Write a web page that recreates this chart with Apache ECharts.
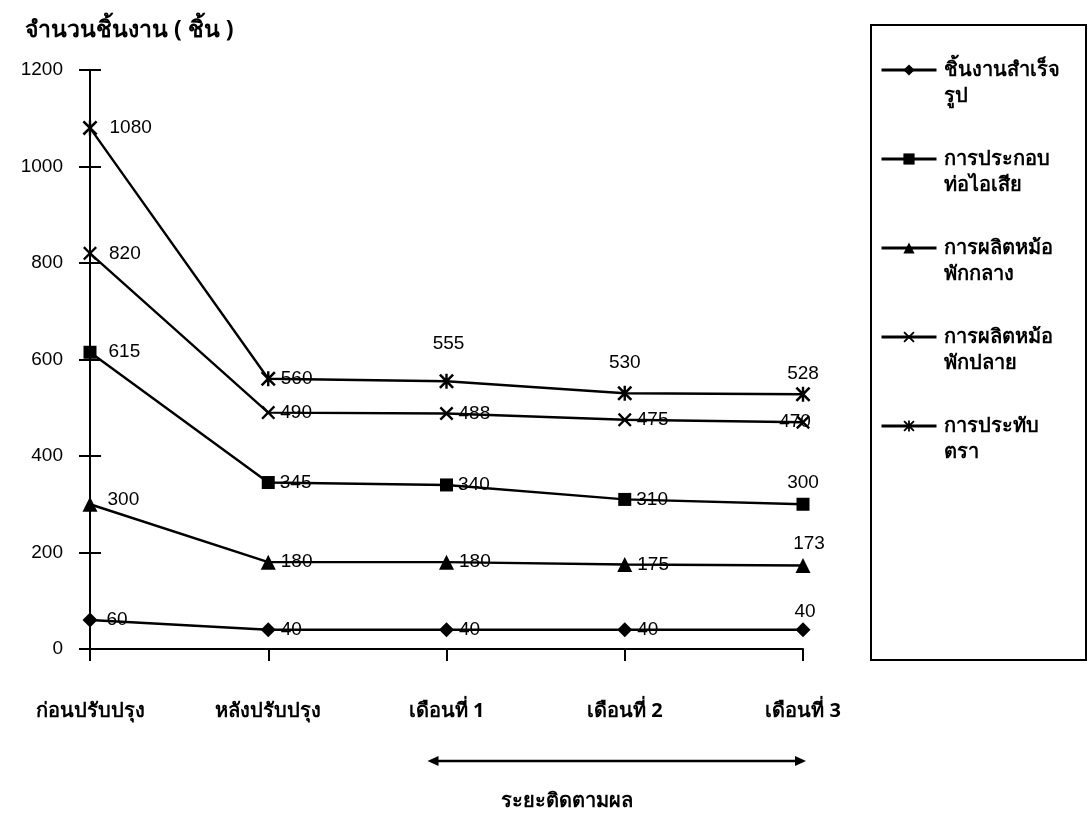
<!DOCTYPE html>
<html>
<head>
<meta charset="utf-8">
<script src="https://cdn.jsdelivr.net/npm/echarts@6/dist/echarts.min.js"></script>
<style>
  html, body { margin: 0; padding: 0; background: #ffffff; }
  #chart { width: 1088px; height: 824px; }
</style>
</head>
<body>
<div id="chart"></div>
<script>
// ---- data ----
const categories = ['ก่อนปรับปรุง', 'หลังปรับปรุง', 'เดือนที่ 1', 'เดือนที่ 2', 'เดือนที่ 3'];
const seriesNames = ['ชิ้นงานสำเร็จรูป', 'การประกอบท่อไอเสีย', 'การผลิตหม้อพักกลาง', 'การผลิตหม้อพักปลาย', 'การประทับตรา'];
const legendLines = [['ชิ้นงานสำเร็จ', 'รูป'], ['การประกอบ', 'ท่อไอเสีย'], ['การผลิตหม้อ', 'พักกลาง'], ['การผลิตหม้อ', 'พักปลาย'], ['การประทับ', 'ตรา']];
const finishedParts = [60, 40, 40, 40, 40];
const exhaustAssembly = [615, 345, 340, 310, 300];
const midMuffler = [300, 180, 180, 175, 173];
const endMuffler = [820, 490, 488, 475, 470];
const stamping = [1080, 560, 555, 530, 528];
const yTicks = { min: 0, max: 1200, interval: 200 };
const yAxisTitle = 'จำนวนชิ้นงาน ( ชิ้น )';
const followUpLabel = 'ระยะติดตามผล';

const values = [finishedParts, exhaustAssembly, midMuffler, endMuffler, stamping];

// ---- styles ----
const THAI = "'Noto Sans', 'Liberation Sans', sans-serif";
const NUM = "'Liberation Sans', Arial, sans-serif";
const xPath = 'path://M0,1.2L1.2,0L5,3.8L8.8,0L10,1.2L6.2,5L10,8.8L8.8,10L5,6.2L1.2,10L0,8.8L3.8,5Z';
const starPath = 'path://M0,1.2L1.2,0L5,3.8L8.8,0L10,1.2L6.2,5L10,8.8L8.8,10L5,6.2L1.2,10L0,8.8L3.8,5Z M4.2,0L5.8,0L5.8,10L4.2,10Z';
const symbols = ['diamond', 'rect', 'triangle', xPath, starPath];
const symbolSizes = [15, 13, 15, 14, 15];

// label placement per point: [position, distance, offset]
const labelPlace = [
  [['right', 9, [0, 0]], ['right', 5, [0, 0]], ['right', 5, [0, 0]], ['right', 5, [0, 0]], ['top', 1, [2, 0]]],
  [['right', 12, [0, 0]], ['right', 5, [0, 0]], ['right', 5, [0, 0]], ['right', 5, [0, 0]], ['top', 5, [0, 0]]],
  [['right', 10, [0, -4]], ['right', 5, [0, 0]], ['right', 5, [0, 0]], ['right', 5, [0, 0]], ['top', 5, [6, 0]]],
  [['right', 12, [0, 0]], ['right', 5, [0, 0]], ['right', 5, [0, 0]], ['right', 5, [0, 0]], ['inside', 0, [-8, 0]]],
  [['right', 12, [0, 0]], ['right', 5, [0, 0]], ['top', 20, [2, 0]], ['top', 14, [0, 0]], ['top', 3, [0, 0]]]
];

const series = seriesNames.map((name, si) => ({
  name: name,
  type: 'line',
  data: values[si].map((v, di) => ({
    value: v,
    label: {
      show: true,
      position: labelPlace[si][di][0],
      distance: labelPlace[si][di][1],
      offset: labelPlace[si][di][2]
    }
  })),
  symbol: symbols[si],
  symbolSize: symbolSizes[si],
  showAllSymbol: true,
  lineStyle: { color: '#000', width: 2.4 },
  itemStyle: { color: '#000', borderColor: '#000', borderWidth: 0 },
  label: { show: true, color: '#000', fontFamily: NUM, fontSize: 19 },
  emphasis: { disabled: true },
  z: 3
}));

// legend text: blank first line so the icon sits on the first text line
const legendMap = {};
seriesNames.forEach((n, i) => { legendMap[n] = ' \n' + legendLines[i].join('\n'); });

const baseGraphic = [
  {
    type: 'text', left: 25, top: 19,
    style: { text: yAxisTitle, fill: '#000', font: "bold 23px " + THAI }
  },
  {
    type: 'rect', shape: { x: 871, y: 25, width: 215, height: 635 },
    style: { fill: 'none', stroke: '#000', lineWidth: 2 }
  }
];

const chart = echarts.init(document.getElementById('chart'), null, { renderer: 'canvas' });
const option = {
  animation: false,
  backgroundColor: '#ffffff',
  grid: { left: 90, right: 285, top: 70, bottom: 175 },
  xAxis: {
    type: 'category',
    data: categories,
    boundaryGap: false,
    axisLine: { lineStyle: { color: '#000', width: 2 } },
    axisTick: { show: true, length: 12, lineStyle: { color: '#000', width: 2 } },
    axisLabel: { color: '#000', fontFamily: THAI, fontWeight: 'bold', fontSize: 20, margin: 52 },
    splitLine: { show: false }
  },
  yAxis: [
    {
      type: 'value',
      min: yTicks.min, max: yTicks.max, interval: yTicks.interval,
      axisLine: { show: true, lineStyle: { color: '#000', width: 2 } },
      axisTick: { show: true, length: 11, lineStyle: { color: '#000', width: 2 } },
      axisLabel: { color: '#000', fontFamily: NUM, fontSize: 19, margin: 27, formatter: v => String(v) },
      splitLine: { show: false }
    },
    {
      type: 'value',
      position: 'left',
      min: yTicks.min, max: yTicks.max, interval: yTicks.interval,
      axisLine: { show: false },
      axisTick: { show: true, inside: true, length: 11, lineStyle: { color: '#000', width: 2 } },
      axisLabel: { show: false },
      splitLine: { show: false }
    }
  ],
  legend: {
    orient: 'vertical',
    left: 880,
    top: 31,
    itemWidth: 55,
    itemHeight: 14,
    itemGap: 11,
    padding: 0,
    selectedMode: false,
    data: seriesNames,
    formatter: name => legendMap[name],
    lineStyle: { width: 3 },
    textStyle: {
      color: '#000', fontFamily: THAI, fontWeight: 'bold', fontSize: 20,
      lineHeight: 26, padding: [0, 0, 0, 2]
    }
  },
  series: series,
  graphic: baseGraphic
};
chart.setOption(option);

// follow-up period arrow between month 1 and month 3 on the category axis
const yArrow = 761;
const xa = chart.convertToPixel({ xAxisIndex: 0 }, categories[2]) - 19;
const xb = chart.convertToPixel({ xAxisIndex: 0 }, categories[4]) + 3;
chart.setOption({
  graphic: baseGraphic.concat([
    {
      type: 'line', shape: { x1: xa + 8, y1: yArrow, x2: xb - 8, y2: yArrow },
      style: { stroke: '#000', lineWidth: 2.5 }
    },
    {
      type: 'polygon', shape: { points: [[xa, yArrow], [xa + 11, yArrow - 5], [xa + 11, yArrow + 5]] },
      style: { fill: '#000' }
    },
    {
      type: 'polygon', shape: { points: [[xb, yArrow], [xb - 11, yArrow - 5], [xb - 11, yArrow + 5]] },
      style: { fill: '#000' }
    },
    {
      type: 'text', x: (xa + xb) / 2 - 50, y: 801,
      style: { text: followUpLabel, fill: '#000', font: "bold 20px " + THAI, textAlign: 'center', textVerticalAlign: 'middle' }
    }
  ])
});
</script>
</body>
</html>
